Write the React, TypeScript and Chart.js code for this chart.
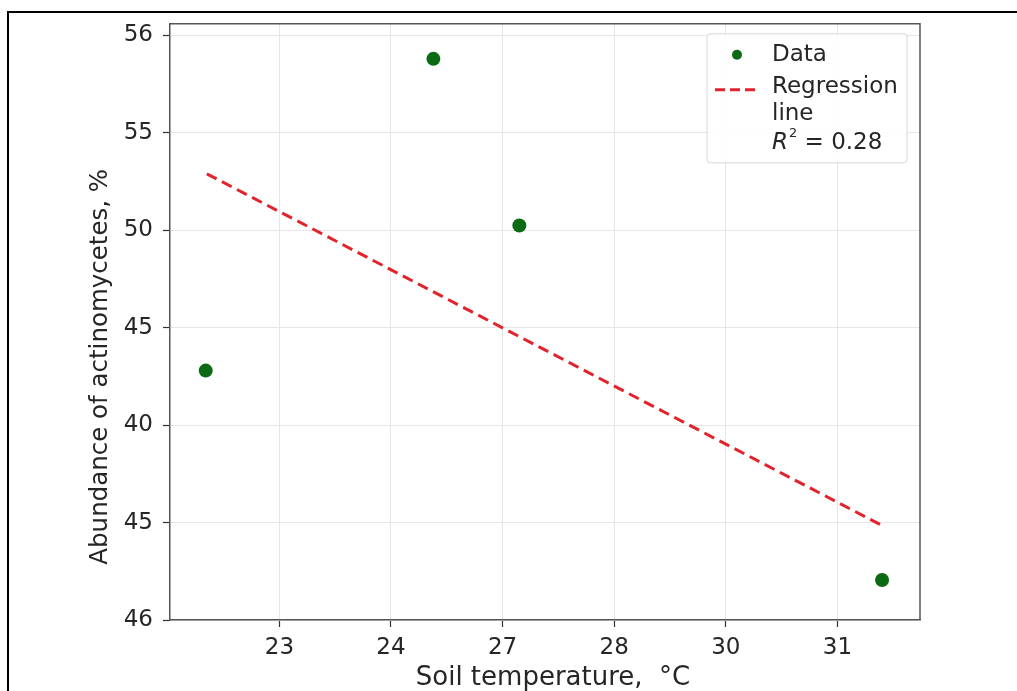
import React, { useEffect, useRef } from 'react';
import { Chart, registerables } from 'chart.js';

Chart.register(...registerables);

// Tick labels (shown at evenly spaced tick positions, as in the reference)
const xTickLabels = ['23', '24', '27', '28', '30', '31'];
const yTickLabels = ['46', '45', '40', '45', '50', '55', '56'];

// Observed data, in tick-index units
const dataX = [0.34, 2.38, 3.15, 6.4];
const dataY = [2.56, 5.76, 4.05, 0.41];

// Regression line end points, in tick-index units
const regX = [0.35, 6.4];
const regY = [4.58, 0.97];

const rSquared = '0.28';
const xTitle = 'Soil temperature,  °C';
const yTitle = 'Abundance of actinomycetes, %';
const legendData = 'Data';
const legendReg = ['Regression', 'line'];

const FONT = 'DejaVu Sans';
const GREEN = '#0a6b12';
const RED = '#e3232b';
const TEXT = '#262626';

const framePlugin = {
  id: 'frameAndLegend',
  afterDraw(chart: any) {
    const { ctx, chartArea } = chart;
    const { left, right, top, bottom } = chartArea;
    ctx.save();
    // frame top + right
    ctx.strokeStyle = '#555';
    ctx.lineWidth = 1.5;
    ctx.beginPath();
    ctx.moveTo(left, top);
    ctx.lineTo(right, top);
    ctx.lineTo(right, bottom);
    ctx.stroke();

    // axis titles
    ctx.fillStyle = TEXT;
    ctx.textAlign = 'center';
    ctx.textBaseline = 'alphabetic';
    ctx.font = `26px "${FONT}"`;
    ctx.fillText(xTitle, left + 383, bottom + 65);
    ctx.save();
    ctx.translate(left - 63, top + 343);
    ctx.rotate(-Math.PI / 2);
    ctx.font = `24.5px "${FONT}"`;
    ctx.fillText(yTitle, 0, 0);
    ctx.restore();

    // legend
    const bx = right - 213;
    const by = top + 10;
    const bw = 200;
    const bh = 129;
    ctx.fillStyle = 'rgba(255,255,255,0.85)';
    ctx.strokeStyle = '#d6d6d6';
    ctx.lineWidth = 1;
    ctx.beginPath();
    if ((ctx as any).roundRect) (ctx as any).roundRect(bx, by, bw, bh, 3);
    else ctx.rect(bx, by, bw, bh);
    ctx.fill();
    ctx.stroke();

    const textX = bx + 65;
    const r1 = by + 21;
    const r2 = by + 53;
    const r3 = by + 80;
    const r4 = by + 109;

    ctx.fillStyle = GREEN;
    ctx.beginPath();
    ctx.arc(bx + 30, r1, 5, 0, Math.PI * 2);
    ctx.fill();

    ctx.strokeStyle = RED;
    ctx.lineWidth = 3;
    ctx.setLineDash([10, 5]);
    ctx.beginPath();
    ctx.moveTo(bx + 8, r2 + 3);
    ctx.lineTo(bx + 49, r2 + 3);
    ctx.stroke();
    ctx.setLineDash([]);

    ctx.fillStyle = TEXT;
    ctx.textBaseline = 'middle';
    ctx.textAlign = 'left';
    ctx.font = `23px "${FONT}"`;
    ctx.fillText(legendData, textX, r1);
    ctx.fillText(legendReg[0], textX, r2);
    ctx.fillText(legendReg[1], textX, r3);
    ctx.font = `italic 23px "${FONT}"`;
    ctx.fillText('R', textX, r4);
    const rw = ctx.measureText('R').width;
    ctx.font = `13px "${FONT}"`;
    ctx.fillText('2', textX + rw + 1, r4 - 9);
    const sw = ctx.measureText('2').width;
    ctx.font = `23px "${FONT}"`;
    ctx.fillText(' = ' + rSquared, textX + rw + sw + 1, r4);
    ctx.restore();
  },
};

export default function App() {
  const ref = useRef<HTMLCanvasElement | null>(null);

  useEffect(() => {
    if (!ref.current) return;
    const tickFont = { family: FONT, size: 23 };
    const chart = new Chart(ref.current, {
      type: 'scatter',
      data: {
        datasets: [
          {
            label: 'Regression line',
            type: 'line',
            data: regX.map((x, i) => ({ x, y: regY[i] })),
            borderColor: RED,
            borderWidth: 3,
            borderDash: [11, 6],
            pointRadius: 0,
            fill: false,
            order: 2,
          } as any,
          {
            label: 'Data',
            data: dataX.map((x, i) => ({ x, y: dataY[i] })),
            backgroundColor: GREEN,
            borderColor: GREEN,
            pointRadius: 7,
            pointBorderWidth: 0,
            order: 1,
          },
        ],
      },
      options: {
        animation: false,
        responsive: false,
        devicePixelRatio: 1,
        layout: { padding: { left: 0, top: 23, right: 97, bottom: 0 } },
        plugins: { legend: { display: false }, tooltip: { enabled: false } },
        scales: {
          x: {
            type: 'linear',
            min: 0.02,
            max: 6.74,
            afterBuildTicks: (s: any) => {
              s.ticks = xTickLabels.map((_, i) => ({ value: i + 1 }));
            },
            afterFit: (s: any) => {
              s.height = 71;
            },
            ticks: {
              font: tickFont,
              color: TEXT,
              padding: 7,
              maxRotation: 0,
              autoSkip: false,
              callback: (v: any) => xTickLabels[Math.round(Number(v)) - 1] ?? '',
            },
            grid: { color: '#e6e6e6', lineWidth: 1, tickLength: 7, tickColor: '#333', tickWidth: 1.2 },
            border: { color: '#555', width: 1.5 },
            title: { display: false },
          },
          y: {
            type: 'linear',
            min: 0,
            max: 6.12,
            afterBuildTicks: (s: any) => {
              s.ticks = yTickLabels.map((_, i) => ({ value: i }));
            },
            afterFit: (s: any) => {
              s.width = 170;
            },
            ticks: {
              font: tickFont,
              color: TEXT,
              padding: 10,
              autoSkip: false,
              callback: (v: any) => yTickLabels[Math.round(Number(v))] ?? '',
            },
            grid: { color: '#e6e6e6', lineWidth: 1, tickLength: 7, tickColor: '#333', tickWidth: 1.2 },
            border: { color: '#555', width: 1.5 },
            title: { display: false },
          },
        },
      },
      plugins: [framePlugin],
    });
    return () => chart.destroy();
  }, []);

  return (
    <div>
      <div
        style={{
          position: 'fixed',
          left: 7,
          top: 11,
          right: 0,
          bottom: 0,
          borderTop: '2px solid #000',
          borderLeft: '2px solid #000',
          background: '#fff',
        }}
      />
      <canvas
        ref={ref}
        width={1017}
        height={691}
        style={{ position: 'fixed', left: 0, top: 0, width: 1017, height: 691 }}
      />
    </div>
  );
}
